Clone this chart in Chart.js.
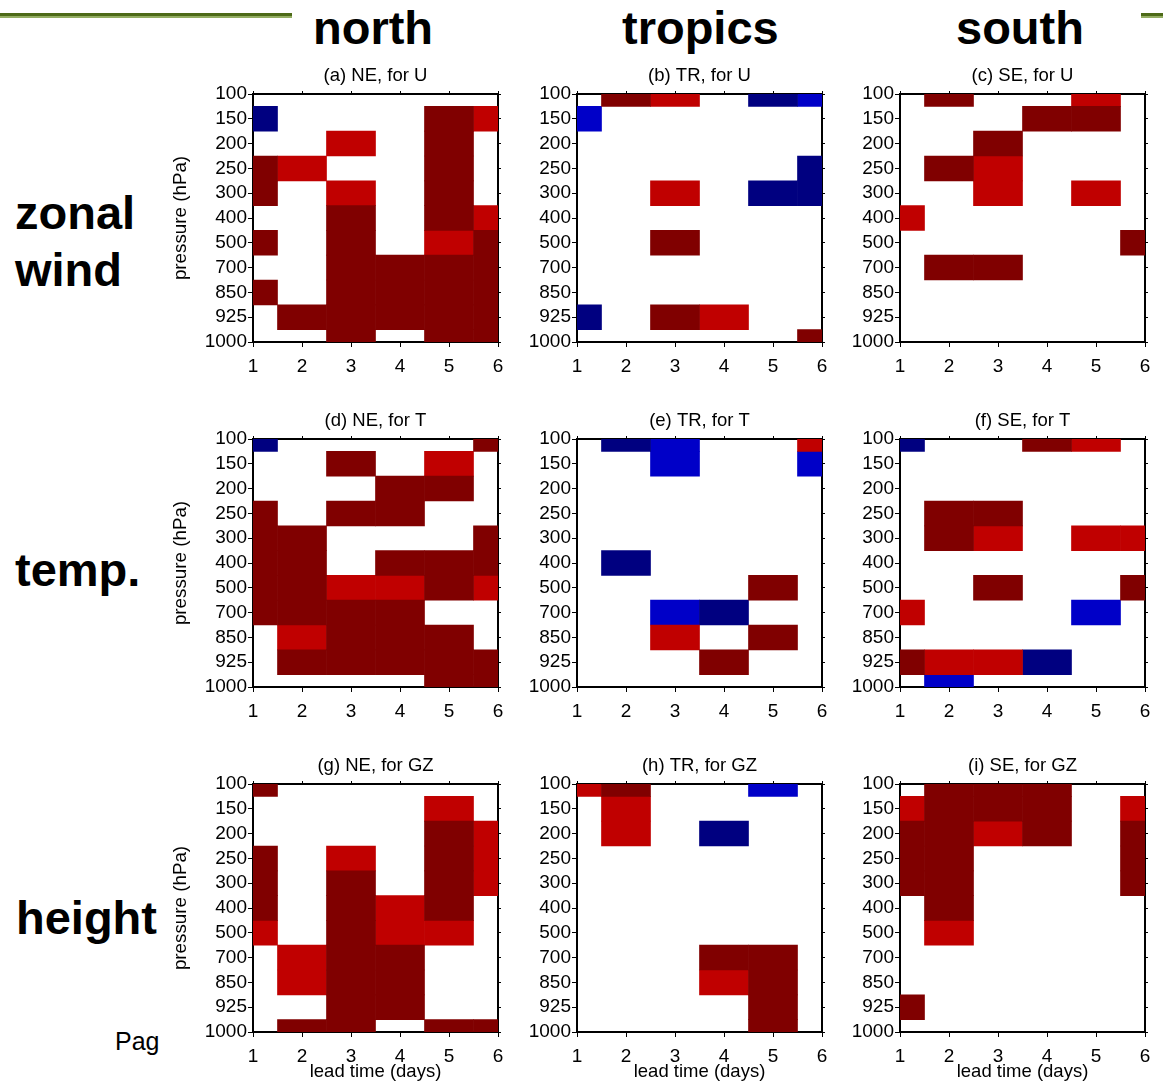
<!DOCTYPE html>
<html><head><meta charset="utf-8">
<script src="https://cdn.jsdelivr.net/npm/chart.js@4.4.1/dist/chart.umd.min.js"></script>
<style>
html,body{margin:0;padding:0;background:#fff}
body{width:1163px;height:1087px;position:relative;overflow:hidden;font-family:"Liberation Sans",Arial,sans-serif}
.big{position:absolute;font-weight:bold;font-size:47px;line-height:47px;white-space:nowrap;color:#000}
.pag{position:absolute;font-size:25px;line-height:25px;white-space:nowrap;color:#000}
.gl{position:absolute;height:5px;background:linear-gradient(#4d6a18 0,#4d6a18 50%,#93ad62 50%,#93ad62 100%)}
canvas{position:absolute}
</style></head><body>
<div class="gl" style="left:0;top:13px;width:292px"></div>
<div class="gl" style="left:1141px;top:13px;width:22px"></div>
<div class="big" style="left:313px;top:3.5px">north</div>
<div class="big" style="left:622px;top:3.5px">tropics</div>
<div class="big" style="left:956px;top:3.5px">south</div>
<div class="big" style="left:15px;top:189px">zonal</div>
<div class="big" style="left:15px;top:246px">wind</div>
<div class="big" style="left:15px;top:546px">temp.</div>
<div class="big" style="left:16px;top:894px">height</div>
<div class="pag" style="left:115px;top:1029px">Pag</div>
<script>
const FONT = '"Liberation Sans", Arial, sans-serif';
// pressure levels (hPa), top to bottom
const levels = ['100','150','200','250','300','400','500','700','850','925','1000'];
// lead time (days)
const days = [1, 2, 3, 4, 5, 6];
// cell codes: D = dark red, R = red, N = dark blue, B = blue, . = none
const palette = { D: '#800000', R: '#c00000', N: '#000080', B: '#0000c8' };

const gridNEU = ['......','N...DR','..R.D.','DR..D.','D.R.D.','..D.DR','D.D.RD','..DDDD','D.DDDD','.DDDDD','..D.DD'];
const gridTRU = ['.DR.NB','B.....','......','.....N','..R.NN','......','..D...','......','......','N.DR..','.....D'];
const gridSEU = ['.D..R.','...DD.','..D...','.DR...','..R.R.','R.....','.....D','.DD...','......','......','......'];
const gridNET = ['N....D','..D.R.','...DD.','D.DD..','DD...D','DD.DDD','DDRRDR','DDDD..','.RDDD.','.DDDDD','....DD'];
const gridTRT = ['.NB..R','..B..B','......','......','......','.N....','....D.','..BN..','..R.D.','...D..','......'];
const gridSET = ['N..DR.','......','......','.DD...','.DR.RR','......','..D..D','R...B.','......','DRRN..','.B....'];
const gridNEGZ = ['D.....','....R.','....DR','D.R.DR','D.D.DR','D.DRD.','R.DRR.','.RDD..','.RDD..','..DD..','.DD.DD'];
const gridTRGZ = ['RD..B.','.R....','.R.N..','......','......','......','......','...DD.','...RD.','....D.','....D.'];
const gridSEGZ = ['.DDD..','RDDD.R','DDRD.D','DD...D','DD...D','.D....','.R....','......','......','D.....','......'];

const panelTitles = ['(a) NE, for U','(b) TR, for U','(c) SE, for U',
                     '(d) NE, for T','(e) TR, for T','(f) SE, for T',
                     '(g) NE, for GZ','(h) TR, for GZ','(i) SE, for GZ'];
const panelGrids = [gridNEU, gridTRU, gridSEU, gridNET, gridTRT, gridSET, gridNEGZ, gridTRGZ, gridSEGZ];

const yTitle = 'pressure (hPa)';
const xTitle = 'lead time (days)';

// layout (plot-area positions)
const colLeft = [253, 577, 900];
const rowTop = [94, 439, 784];
const PW = 245, PH = 248;
const YW = 87, Y2W = 20, TOPH = 40, XH = 55;

function buildDatasets(grid) {
  return Object.keys(palette).map(code => {
    const data = [];
    grid.forEach((row, r) => {
      [...row].forEach((c, i) => {
        if (c === code) data.push({ y: levels[r], x: [days[i] - 0.5, days[i] + 0.5] });
      });
    });
    return {
      label: code, data, backgroundColor: palette[code], borderWidth: 0,
      grouped: false, clip: 0, barPercentage: 1, categoryPercentage: 1,
      xAxisID: 'x', yAxisID: 'y'
    };
  });
}

Chart.defaults.color = '#000';
Chart.defaults.font.family = FONT;

panelGrids.forEach((grid, k) => {
  const row = Math.floor(k / 3), col = k % 3;
  const cv = document.createElement('canvas');
  const w = YW + PW + Y2W, h = TOPH + PH + XH;
  cv.width = w; cv.height = h;
  cv.style.width = w + 'px'; cv.style.height = h + 'px';
  cv.style.left = (colLeft[col] - YW) + 'px';
  cv.style.top = (rowTop[row] - TOPH) + 'px';
  document.body.appendChild(cv);
  const tickFont = { size: 19, family: FONT };
  new Chart(cv, {
    type: 'bar',
    data: { labels: levels, datasets: buildDatasets(grid) },
    options: {
      indexAxis: 'y', responsive: false, animation: false, events: [],
      layout: { padding: 0 },
      plugins: {
        legend: { display: false }, tooltip: { enabled: false },
        title: { display: true, fullSize: false, text: panelTitles[k], color: '#000',
                 font: { size: 18.5, weight: 'normal', family: FONT },
                 padding: { top: 10.9, bottom: 0.9 } }
      },
      scales: {
        y: {
          type: 'category', labels: levels, offset: false, position: 'left', z: 1,
          grid: { display: true, drawOnChartArea: false, drawTicks: true, tickLength: 5, color: '#000', offset: false },
          border: { display: true, color: '#000', width: 2 },
          ticks: { autoSkip: false, padding: 1, color: '#000', font: tickFont },
          title: { display: col === 0, text: yTitle, color: '#000', font: { size: 18.8, family: FONT }, padding: { top: 4, bottom: 4 } },
          afterFit: s => { s.width = YW; }
        },
        x: {
          type: 'linear', min: 1, max: 6, position: 'bottom', z: 1,
          grid: { display: true, drawOnChartArea: false, drawTicks: true, tickLength: 5, color: '#000' },
          border: { display: true, color: '#000', width: 2 },
          ticks: { stepSize: 1, padding: 8, color: '#000', font: tickFont },
          title: { display: row === 2, text: xTitle, color: '#000', font: { size: 18.5, family: FONT }, padding: { top: 4, bottom: 4 } },
          afterFit: s => { s.height = XH; }
        },
        x2: {
          type: 'linear', min: 1, max: 6, position: 'top', z: 1,
          grid: { display: true, drawOnChartArea: false, drawTicks: true, tickLength: 3, color: '#000' },
          border: { display: true, color: '#000', width: 2 },
          ticks: { display: false, stepSize: 1 },
          afterFit: s => { s.height = TOPH - 34; }
        },
        y2: {
          type: 'category', labels: levels, offset: false, position: 'right', z: 1,
          grid: { display: true, drawOnChartArea: false, drawTicks: true, tickLength: 3, color: '#000', offset: false },
          border: { display: true, color: '#000', width: 2 },
          ticks: { display: false, autoSkip: false },
          afterFit: s => { s.width = Y2W; }
        }
      }
    }
  });
});
</script>
</body></html>
